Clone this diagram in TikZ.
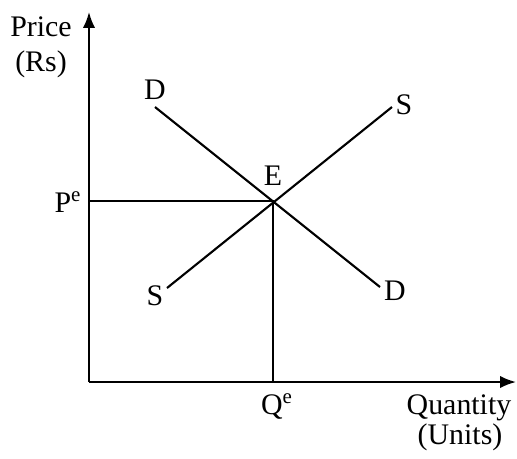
\documentclass[tikz,border=0pt]{standalone}
\usepackage{fontspec}
\setmainfont{Liberation Serif}
\usetikzlibrary{arrows.meta,positioning}

\tikzset{
  axisline/.style={line width=1.2pt,-{Latex[length=9pt,width=7pt]}},
  curveline/.style={line width=1.2pt},
  lbl/.style={font=\fontsize{17}{19}\selectfont,inner sep=1pt}
}

\begin{document}
\begin{tikzpicture}[x=0.02cm,y=-0.02cm]
\useasboundingbox (0,0) rectangle (517,458);

% axes
\coordinate (O) at (89,382);
\coordinate (Ytop) at (89,12);
\coordinate (Xend) at (516,382);
\draw[axisline] (O) -- (Ytop);
\draw[axisline] (O) -- (Xend);

% demand and supply
\coordinate (E) at (273,201);
\coordinate (D1) at (155,107);
\coordinate (D2) at (380,287);
\coordinate (S1) at (167,288);
\coordinate (S2) at (392,107);
\draw[curveline] (D1) -- (D2);
\draw[curveline] (S1) -- (S2);

% equilibrium lines
\coordinate (Pe) at (89,201);
\coordinate (Qe) at (273,382);
\draw[curveline] (Pe) -- (E) -- (Qe);

% labels
\node[lbl] (price) at (41,27) {Price};
\node[lbl] (rs) at (41,64) {(Rs)};
\node[lbl] (qty) at (459,408) {Quantity};
\node[lbl] (units) at (460,437) {(Units)};
\node[lbl] (dtop) at (155,90) {D};
\node[lbl] (dbot) at (395,291) {D};
\node[lbl] (stop) at (404,105) {S};
\node[lbl] (sbot) at (155,296) {S};
\node[lbl] (elbl) at (273,176) {E};
\node[lbl] (pelbl) at (68,202) {P\textsuperscript{e}};
\node[lbl] (qelbl) at (277,406) {Q\textsuperscript{e}};
\end{tikzpicture}
\end{document}
